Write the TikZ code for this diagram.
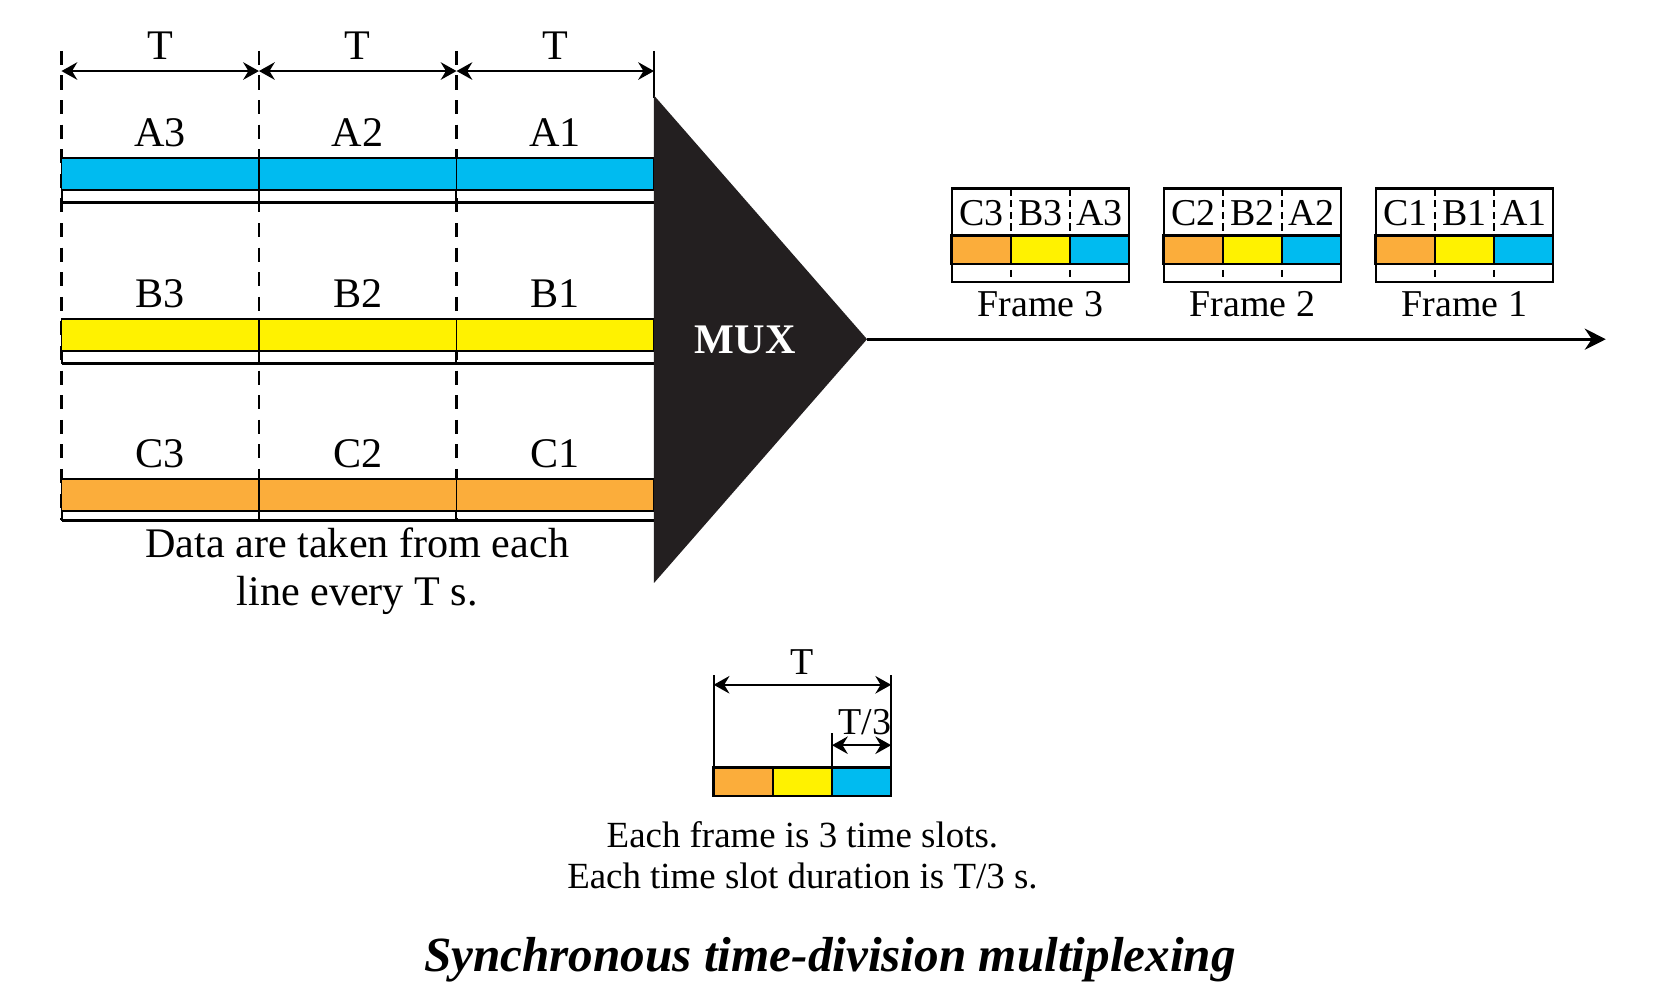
\documentclass[tikz,border=0pt]{standalone}
\usepackage{fontspec}
\setmainfont{Liberation Serif}
\usetikzlibrary{arrows.meta,positioning}
\definecolor{lineblue}{RGB}{0,187,240}
\definecolor{lineyellow}{RGB}{255,242,0}
\definecolor{lineorange}{RGB}{251,173,59}
\definecolor{muxblack}{RGB}{35,31,32}

\begin{document}
\begin{tikzpicture}[
  x=0.0106cm, y=-0.0106cm,
  slot/.style={rectangle, draw, line width=0.5pt, minimum width=1.975cm, minimum height=0.318cm, inner sep=0pt, outer sep=0pt},
  fslot/.style={rectangle, draw, line width=0.7pt, minimum width=0.592cm, minimum height=0.286cm, inner sep=0pt, outer sep=0pt},
  framebox/.style={rectangle, draw, line width=0.7pt, minimum width=1.77cm, minimum height=0.933cm, inner sep=0pt, outer sep=0pt},
  lbl/.style={font=\fontsize{12}{13.5}\selectfont, inner sep=3pt},
  ftxt/.style={font=\fontsize{10.8}{11.5}\selectfont, inner sep=2.5pt},
  note/.style={font=\fontsize{10.5}{11.5}\selectfont, align=center},
  dim/.style={{Stealth[length=4.5pt,width=5pt,inset=1.5pt]}-{Stealth[length=4.5pt,width=5pt,inset=1.5pt]}, line width=0.6pt},
  arr/.style={-{Stealth[length=6pt,width=6pt,inset=2pt]}, line width=0.8pt},
  guide/.style={dashed, dash pattern=on 4pt off 3pt, line width=0.6pt},
  fguide/.style={dashed, dash pattern=on 2pt off 1.3pt, line width=0.5pt}
]
\useasboundingbox (0,0) rectangle (1568,943);

% guide lines of the input lines
\draw[guide] (58,48) -- (58,491);
\draw[guide] (244.3,48) -- (244.3,491);
\draw[guide] (430.7,48) -- (430.7,491);
\draw[line width=0.6pt] (617,48) -- (617,92);

% period marks
\coordinate (t0) at (58,67);
\coordinate (t1) at (244.3,67);
\coordinate (t2) at (430.7,67);
\coordinate (t3) at (617,67);
\draw[dim] (t0) -- node[lbl, above] (tp3) {T} (t1);
\draw[dim] (t1) -- node[lbl, above] (tp2) {T} (t2);
\draw[dim] (t2) -- node[lbl, above] (tp1) {T} (t3);

% line A
\node[slot, fill=lineblue] (a3) at (151.2,164) {};
\node[slot, fill=lineblue, right=0pt of a3] (a2) {};
\node[slot, fill=lineblue, right=0pt of a2] (a1) {};
\node[lbl, above=0pt of a3] (la3) {A3};
\node[lbl, above=0pt of a2] (la2) {A2};
\node[lbl, above=0pt of a1] (la1) {A1};
\draw[line width=0.9pt] ([yshift=-0.127cm]a3.south west) -- ([yshift=-0.127cm]a1.south east);
\draw[line width=0.6pt] (a3.south west) -- ([yshift=-0.127cm]a3.south west);
\draw[line width=0.6pt] (a2.south west) -- ([yshift=-0.127cm]a2.south west);
\draw[line width=0.6pt] (a1.south west) -- ([yshift=-0.127cm]a1.south west);

% line B
\node[slot, fill=lineyellow] (b3) at (151.2,316) {};
\node[slot, fill=lineyellow, right=0pt of b3] (b2) {};
\node[slot, fill=lineyellow, right=0pt of b2] (b1) {};
\node[lbl, above=0pt of b3] (lb3) {B3};
\node[lbl, above=0pt of b2] (lb2) {B2};
\node[lbl, above=0pt of b1] (lb1) {B1};
\draw[line width=0.9pt] ([yshift=-0.127cm]b3.south west) -- ([yshift=-0.127cm]b1.south east);
\draw[line width=0.6pt] (b3.south west) -- ([yshift=-0.127cm]b3.south west);
\draw[line width=0.6pt] (b2.south west) -- ([yshift=-0.127cm]b2.south west);
\draw[line width=0.6pt] (b1.south west) -- ([yshift=-0.127cm]b1.south west);

% line C
\node[slot, fill=lineorange] (c3) at (151.2,467) {};
\node[slot, fill=lineorange, right=0pt of c3] (c2) {};
\node[slot, fill=lineorange, right=0pt of c2] (c1) {};
\node[lbl, above=0pt of c3] (lc3) {C3};
\node[lbl, above=0pt of c2] (lc2) {C2};
\node[lbl, above=0pt of c1] (lc1) {C1};
\draw[line width=0.9pt] ([yshift=-0.1cm]c3.south west) -- ([yshift=-0.1cm]c1.south east);
\draw[line width=0.6pt] (c3.south west) -- ([yshift=-0.1cm]c3.south west);
\draw[line width=0.6pt] (c2.south west) -- ([yshift=-0.1cm]c2.south west);
\draw[line width=0.6pt] (c1.south west) -- ([yshift=-0.1cm]c1.south west);

\node[lbl, align=center] (takenote) at (337,539) {Data are taken from each\\line every T s.};

% multiplexer
\coordinate (muxtop) at (617,90);
\coordinate (muxtip) at (818,320);
\coordinate (muxbot) at (617,550);
\fill[muxblack] (muxtop) -- (muxtip) -- (muxbot) -- cycle;
\node[font=\bfseries\fontsize{12}{14}\selectfont, text=white] (mux) at (703,321) {MUX};
\coordinate (outend) at (1515,320);
\draw[arr] (muxtip) -- (outend);

% frame 3
\node[framebox] (f3) at (981.5,222) {};
\node[fslot, fill=lineorange] (f3c) at (925.8,235.5) {};
\node[fslot, fill=lineyellow, right=0pt of f3c] (f3b) {};
\node[fslot, fill=lineblue, right=0pt of f3b] (f3a) {};
\draw[fguide] (f3c.east |- f3.north) -- (f3c.east |- f3.south);
\draw[fguide] (f3b.east |- f3.north) -- (f3b.east |- f3.south);
\node[ftxt, above=0pt of f3c] (f3tc) {C3};
\node[ftxt, above=0pt of f3b] (f3tb) {B3};
\node[ftxt, above=0pt of f3a] (f3ta) {A3};
\node[ftxt, below=0pt of f3] (f3l) {Frame 3};

% frame 2
\node[framebox] (f2) at (1181.5,222) {};
\node[fslot, fill=lineorange] (f2c) at (1125.8,235.5) {};
\node[fslot, fill=lineyellow, right=0pt of f2c] (f2b) {};
\node[fslot, fill=lineblue, right=0pt of f2b] (f2a) {};
\draw[fguide] (f2c.east |- f2.north) -- (f2c.east |- f2.south);
\draw[fguide] (f2b.east |- f2.north) -- (f2b.east |- f2.south);
\node[ftxt, above=0pt of f2c] (f2tc) {C2};
\node[ftxt, above=0pt of f2b] (f2tb) {B2};
\node[ftxt, above=0pt of f2a] (f2ta) {A2};
\node[ftxt, below=0pt of f2] (f2l) {Frame 2};

% frame 1
\node[framebox] (f1) at (1381.5,222) {};
\node[fslot, fill=lineorange] (f1c) at (1325.8,235.5) {};
\node[fslot, fill=lineyellow, right=0pt of f1c] (f1b) {};
\node[fslot, fill=lineblue, right=0pt of f1b] (f1a) {};
\draw[fguide] (f1c.east |- f1.north) -- (f1c.east |- f1.south);
\draw[fguide] (f1b.east |- f1.north) -- (f1b.east |- f1.south);
\node[ftxt, above=0pt of f1c] (f1tc) {C1};
\node[ftxt, above=0pt of f1b] (f1tb) {B1};
\node[ftxt, above=0pt of f1a] (f1ta) {A1};
\node[ftxt, below=0pt of f1] (f1l) {Frame 1};

% one frame in detail
\node[fslot, fill=lineorange] (s1) at (701.2,737.5) {};
\node[fslot, fill=lineyellow, right=0pt of s1] (s2) {};
\node[fslot, fill=lineblue, right=0pt of s2] (s3) {};
\draw[line width=0.6pt] (s1.north west) -- ([yshift=0.922cm]s1.north west);
\draw[line width=0.6pt] (s3.north east) -- ([yshift=0.922cm]s3.north east);
\draw[line width=0.6pt] (s3.north west) -- ([yshift=0.34cm]s3.north west);
\draw[dim] ([yshift=0.827cm]s1.north west) -- node[ftxt, above] (tframe) {T} ([yshift=0.827cm]s3.north east);
\draw[dim] ([yshift=0.2226cm]s3.north west) -- node[ftxt, above, xshift=1pt] (tslot) {T/3} ([yshift=0.2226cm]s3.north east);
\node[note] (slotnote) at (757,807) {Each frame is 3 time slots.\\Each time slot duration is T/3 s.};

\node[font=\bfseries\itshape\fontsize{14}{16}\selectfont] (title) at (783,905) {Synchronous time-division multiplexing};
\end{tikzpicture}
\end{document}
